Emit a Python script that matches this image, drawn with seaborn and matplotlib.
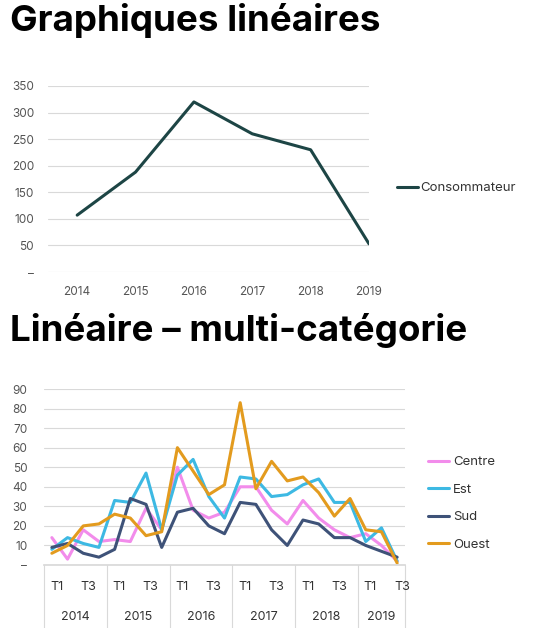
import matplotlib
matplotlib.use("Agg")
import matplotlib.pyplot as plt
import matplotlib.transforms as mtransforms
import seaborn as sns
import pandas as pd

sns.set_theme(style="white")
plt.rcParams['font.family'] = ['Inter', 'DejaVu Sans']

years = [2014, 2015, 2016, 2017, 2018, 2019]
consommateur = [107, 188, 320, 260, 230, 53]

quarters = ["T1", "T2", "T3", "T4"] * 5 + ["T1", "T2", "T3"]
quarter_years = [y for y in years[:5] for _ in range(4)] + [2019] * 3
centre = [14, 3, 18, 12, 13, 12, 29, 18, 50, 28, 24, 27, 40, 40, 28, 21, 33, 24, 18, 14, 16, 10, 2]
est = [8, 14, 11, 9, 33, 32, 47, 18, 46, 54, 35, 24, 45, 44, 35, 36, 41, 44, 32, 32, 12, 19, 2]
sud = [9, 11, 6, 4, 8, 34, 31, 9, 27, 29, 20, 16, 32, 31, 18, 10, 23, 21, 14, 14, 10, 7, 4]
ouest = [6, 10, 20, 21, 26, 24, 15, 17, 60, 48, 36, 41, 83, 39, 53, 43, 45, 37, 25, 34, 18, 17, 1]
series_names = ["Centre", "Est", "Sud", "Ouest"]
colors = ["#F28CEB", "#3DB9E3", "#3E5278", "#E39B1E"]

W, H = 543, 628
fig = plt.figure(figsize=(W / 100, H / 100), dpi=100)
tick_col = "#555555"
grid_col = "#d9d9d9"

fig.text(10 / W, 1 - 20 / H, "Graphiques linéaires", fontsize=26.5, fontweight="bold",
         va="center", ha="left", color="black")
fig.text(10 / W, 1 - 330 / H, "Linéaire – multi-catégorie", fontsize=26.5, fontweight="bold",
         va="center", ha="left", color="black")

# Top chart
ax1 = fig.add_axes([48 / W, 1 - 272 / H, 321 / W, 186 / H])
df1 = pd.DataFrame({"x": range(len(years)), "Consommateur": consommateur})
sns.lineplot(data=df1, x="x", y="Consommateur", ax=ax1, color="#1D4545", linewidth=2.2,
             label="Consommateur")
ax1.set_xlim(-0.5, 5)
ax1.set_ylim(0, 350)
ax1.set_yticks(range(0, 351, 50))
ax1.set_yticklabels(["–"] + [str(v) for v in range(50, 351, 50)])
ax1.set_xticks(range(len(years)))
ax1.set_xticklabels([str(y) for y in years])
ax1.grid(axis="y", color=grid_col, linewidth=0.8)
for s in ax1.spines.values():
    s.set_visible(False)
ax1.tick_params(axis="both", length=0, labelsize=8.5, colors=tick_col, pad=10)
ax1.set_xlabel("")
ax1.set_ylabel("")
ax1.legend(loc="center left", bbox_to_anchor=(1.05, 0.45), frameon=False, fontsize=9.5,
           handlelength=1.6, handletextpad=0.2, labelcolor="#333333")

# Bottom chart
ax2 = fig.add_axes([44 / W, 1 - 565 / H, 361 / W, 176 / H])
rows = []
for name, vals in zip(series_names, [centre, est, sud, ouest]):
    for i, v in enumerate(vals):
        rows.append({"i": i, "valeur": v, "Région": name})
df2 = pd.DataFrame(rows)
sns.lineplot(data=df2, x="i", y="valeur", hue="Région", palette=colors, ax=ax2, linewidth=2.2)
n = len(quarters)
ax2.set_xlim(-0.5, n - 0.5)
ax2.set_ylim(0, 90)
ax2.set_yticks(range(0, 91, 10))
ax2.set_yticklabels(["–"] + [str(v) for v in range(10, 91, 10)])
ax2.set_xticks([])
ax2.grid(axis="y", color=grid_col, linewidth=0.8)
for s in ax2.spines.values():
    s.set_visible(False)
ax2.spines["bottom"].set_visible(True)
ax2.spines["bottom"].set_color(grid_col)
ax2.tick_params(axis="both", length=0, labelsize=8.5, colors=tick_col, pad=12)
ax2.set_xlabel("")
ax2.set_ylabel("")
ax2.legend(loc="center left", bbox_to_anchor=(1.03, 0.35), frameon=False, fontsize=9.5,
           handlelength=1.6, handletextpad=0.3, labelspacing=1.15, labelcolor="#333333")

trans = mtransforms.blended_transform_factory(ax2.transData, ax2.transAxes)
px = 1 / 176  # one pixel in axes height units
for i, q in enumerate(quarters):
    if q in ("T1", "T3"):
        ax2.text(i + 0.3, -22 * px, q, transform=trans, ha="center", va="center",
                 fontsize=9, color="#333333")
bounds = [-0.5]
for k in range(1, n):
    if quarter_years[k] != quarter_years[k - 1]:
        bounds.append(k - 0.5)
bounds.append(n - 0.5)
for b in bounds:
    ax2.plot([b, b], [0, -63 * px], transform=trans, color=grid_col, linewidth=0.8, clip_on=False)
for j, y in enumerate(years):
    ax2.text((bounds[j] + bounds[j + 1]) / 2, -52 * px, str(y), transform=trans,
             ha="center", va="center", fontsize=9, color="#333333")

fig.savefig("out.png", dpi=100)
